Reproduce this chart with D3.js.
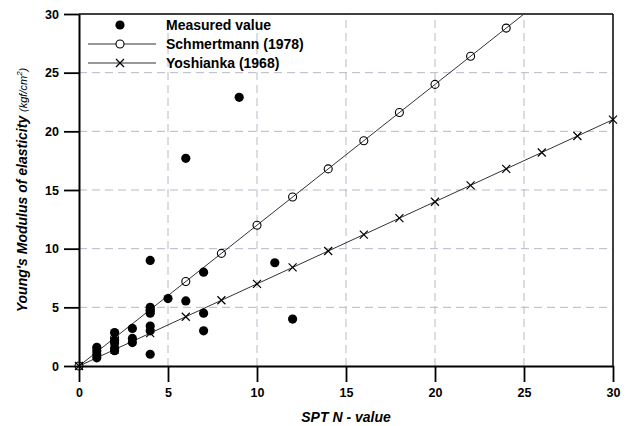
<!DOCTYPE html>
<html><head><meta charset="utf-8">
<script src="https://cdn.jsdelivr.net/npm/d3@7"></script>
<style>body{margin:0;background:#fff}svg{display:block}text{font-family:"Liberation Sans",Arial,sans-serif}</style>
</head><body><svg id="c" width="630" height="426"></svg>
<script>
const measuredN = [1,1,1,1, 2,2,2,2,2, 3,3,3, 4,4,4,4,4,4,4, 5, 6,6, 7,7,7, 9, 11, 12];
const measuredE = [1.6,1.3,1.0,0.7, 2.85,2.2,1.95,1.5,1.3, 3.2,2.35,2.0, 9.0,5.0,4.7,4.5,3.4,3.0,1.0, 5.75, 17.7,5.55, 8.0,4.5,3.0, 22.9, 8.8, 4.0];
const schN = [0,2,4,6,8,10,12,14,16,18,20,22,24];
const schE = [0,2.4,4.8,7.2,9.6,12,14.4,16.8,19.2,21.6,24,26.4,28.8];
const schLineN = [0,25];
const schLineE = [0,30];
const yosN = [0,2,4,6,8,10,12,14,16,18,20,22,24,26,28,30];
const yosE = [0,1.4,2.8,4.2,5.6,7,8.4,9.8,11.2,12.6,14,15.4,16.8,18.2,19.6,21];
const xTicks = [0,5,10,15,20,25,30];
const yTicks = [0,5,10,15,20,25,30];
const legendLabels = ["Measured value","Schmertmann (1978)","Yoshianka (1968)"];

const svg = d3.select("#c");
const L=79, R=613, T=14, B=366;
const x = d3.scaleLinear().domain([0,30]).range([L,R]);
const y = d3.scaleLinear().domain([0,30]).range([B,T]);

// grid
const grid = svg.append("g").attr("stroke","#b8b8c8").attr("stroke-width",1).attr("stroke-dasharray","8,5");
xTicks.filter(d=>d>0&&d<30).forEach(d=>grid.append("line").attr("x1",x(d)).attr("x2",x(d)).attr("y1",B).attr("y2",T));
yTicks.filter(d=>d>0&&d<30).forEach(d=>grid.append("line").attr("y1",y(d)).attr("y2",y(d)).attr("x1",L).attr("x2",R));

// frame top/right
svg.append("line").attr("x1",L).attr("x2",R).attr("y1",T).attr("y2",T).attr("stroke","#000").attr("stroke-width",1.5);
svg.append("line").attr("x1",R).attr("x2",R).attr("y1",T).attr("y2",B).attr("stroke","#000").attr("stroke-width",1.5);

// axes
const xAxis = svg.append("g").attr("transform",`translate(0,${B})`)
  .call(d3.axisBottom(x).tickValues(xTicks).tickSize(16).tickPadding(6).tickSizeOuter(0));
const yAxis = svg.append("g").attr("transform",`translate(${L},0)`)
  .call(d3.axisLeft(y).tickValues(yTicks).tickSize(15).tickPadding(5).tickSizeOuter(0));
[xAxis,yAxis].forEach(a=>{
  a.select(".domain").attr("stroke","#000").attr("stroke-width",2);
  a.selectAll(".tick line").attr("stroke","#000").attr("stroke-width",1.8);
  a.selectAll(".tick text").attr("fill","#000").attr("font-size",12.5).attr("font-weight","bold")
   .attr("font-family","'Liberation Sans',Arial,sans-serif");
});

// clip
svg.append("clipPath").attr("id","clip").append("rect").attr("x",L).attr("y",T).attr("width",R-L).attr("height",B-T);
const plot = svg.append("g").attr("clip-path","url(#clip)");

const line = d3.line().x(d=>x(d[0])).y(d=>y(d[1]));
plot.append("path").attr("d",line(schLineN.map((n,i)=>[n,schLineE[i]]))).attr("fill","none").attr("stroke","#333").attr("stroke-width",1);
plot.append("path").attr("d",line(yosN.map((n,i)=>[n,yosE[i]]))).attr("fill","none").attr("stroke","#333").attr("stroke-width",1);

// measured
svg.append("g").selectAll("circle").data(measuredN.map((n,i)=>[n,measuredE[i]])).join("circle")
  .attr("cx",d=>x(d[0])).attr("cy",d=>y(d[1])).attr("r",4.6).attr("fill","#000");

// schmertmann markers
svg.append("g").selectAll("circle").data(schN.map((n,i)=>[n,schE[i]])).join("circle")
  .attr("cx",d=>x(d[0])).attr("cy",d=>y(d[1])).attr("r",4).attr("fill","none").attr("stroke","#000").attr("stroke-width",1.1);

// yoshianka markers
const cross = (g,cx,cy,s)=>{
  g.append("path").attr("d",`M${cx-s},${cy-s}L${cx+s},${cy+s}M${cx-s},${cy+s}L${cx+s},${cy-s}`)
   .attr("stroke","#000").attr("stroke-width",1.2).attr("fill","none");
};
const yg = svg.append("g");
yosN.forEach((n,i)=>cross(yg,x(n),y(yosE[i]),4));

// legend
const lg = svg.append("g");
const rows=[25,44,63];
lg.append("circle").attr("cx",120).attr("cy",rows[0]).attr("r",4.6).attr("fill","#000");
lg.append("line").attr("x1",88).attr("x2",156).attr("y1",rows[1]).attr("y2",rows[1]).attr("stroke","#333");
lg.append("circle").attr("cx",120).attr("cy",rows[1]).attr("r",4).attr("fill","#fff").attr("stroke","#000").attr("stroke-width",1.1);
lg.append("line").attr("x1",88).attr("x2",156).attr("y1",rows[2]).attr("y2",rows[2]).attr("stroke","#333");
cross(lg,120,rows[2],4);
legendLabels.forEach((t,i)=>lg.append("text").attr("x",166).attr("y",rows[i]+5).attr("font-size",14).attr("font-weight","bold").text(t));

// axis titles
svg.append("text").attr("x",(L+R)/2).attr("y",422).attr("text-anchor","middle").attr("font-size",14)
  .attr("font-weight","bold").attr("font-style","italic").text("SPT N - value");
const yt = svg.append("text").attr("transform",`translate(27,${(T+B)/2}) rotate(-90)`).attr("text-anchor","middle")
  .attr("font-style","italic");
yt.append("tspan").attr("font-size",14).attr("font-weight","bold").text("Young's Modulus of elasticity ");
yt.append("tspan").attr("font-size",11).text("(kgf/cm");
yt.append("tspan").attr("font-size",8).attr("dy",-5).text("2");
yt.append("tspan").attr("font-size",11).attr("dy",5).text(")");
</script></body></html>
